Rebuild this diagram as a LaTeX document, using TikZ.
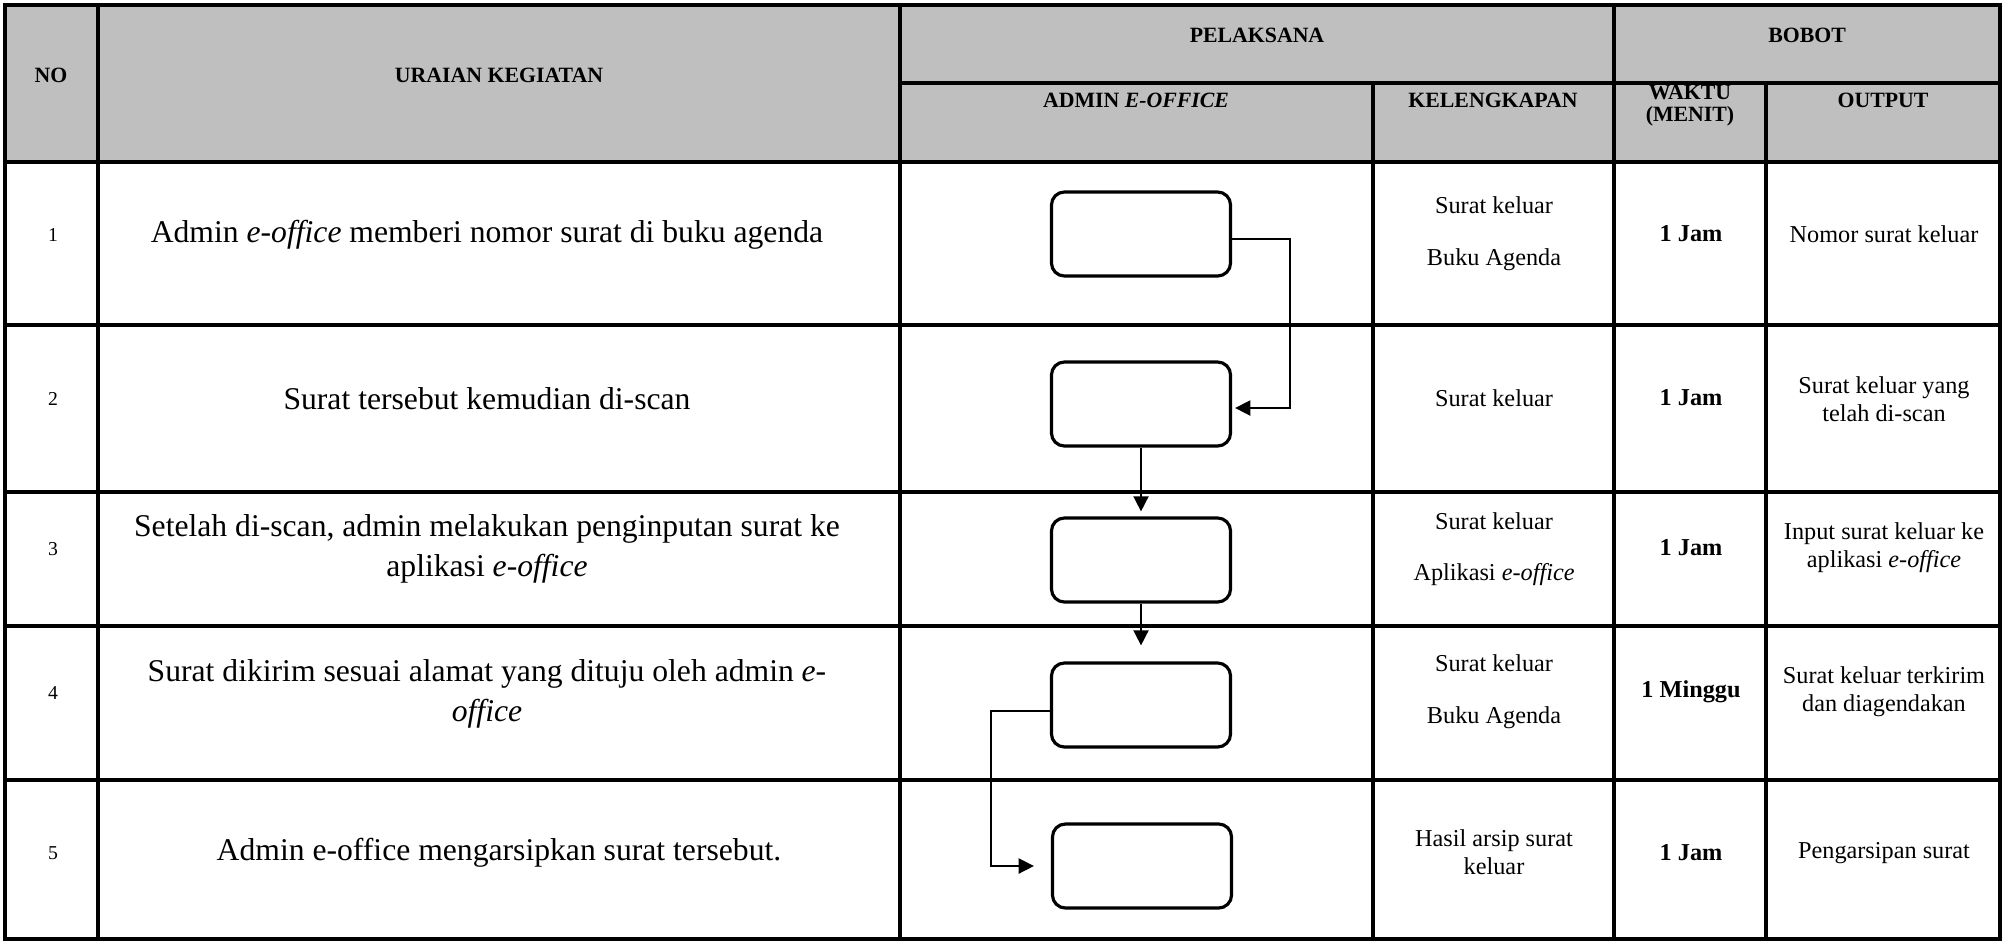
\documentclass[tikz,border=0pt]{standalone}
\usepackage{fontspec}
\setmainfont{Liberation Serif}
\usepackage{tikz}
\usetikzlibrary{arrows.meta,positioning}

\begin{document}
\begin{tikzpicture}[x=0.01cm, y=-0.01cm,
  grid/.style={line width=0.9pt},
  head/.style={font=\fontsize{6.2}{6.3}\selectfont\bfseries, align=center},
  uraian/.style={font=\fontsize{9}{11.4}\selectfont, align=center},
  isi/.style={font=\fontsize{6.9}{8}\selectfont, align=center},
  nomor/.style={font=\fontsize{5.6}{6.7}\selectfont},
  waktu/.style={font=\fontsize{6.9}{8}\selectfont\bfseries},
  proses/.style={draw, line width=0.9pt, rounded corners=3.7pt, minimum width=1.79cm, minimum height=0.84cm},
  alur/.style={line width=0.45pt, -{Triangle[length=4.3pt,width=4.3pt]}}]

\useasboundingbox (0,0) rectangle (2003,942);

% Header background
\fill[black!25] (5,5) rectangle (2000,162);

% Table lines
\draw[grid] (5,5) rectangle (2000,939);
\foreach \xx in {98,900,1614}
  \draw[grid] (\xx,5) -- (\xx,939);
\foreach \xx in {1373,1766}
  \draw[grid] (\xx,83) -- (\xx,939);
\draw[grid] (900,83) -- (2000,83);
\foreach \yy in {162,325,492,626,780}
  \draw[grid] (5,\yy) -- (2000,\yy);

% Header texts
\node[head] (hNo) at (51,75) {NO};
\node[head] (hUraian) at (499,75) {URAIAN KEGIATAN};
\node[head] (hPelaksana) at (1257,35) {PELAKSANA};
\node[head] (hBobot) at (1807,35) {BOBOT};
\node[head] (hAdmin) at (1136,100) {ADMIN \textit{E-OFFICE}};
\node[head] (hKel) at (1493,100) {KELENGKAPAN};
\node[head] (hWaktu) at (1690,106) {WAKTU\\(MENIT)};
\node[head] (hOutput) at (1883,100) {OUTPUT};

% Row numbers
\node[nomor] (no1) at (53,235) {1};
\node[nomor] (no2) at (53,399) {2};
\node[nomor] (no3) at (53,549) {3};
\node[nomor] (no4) at (53,693) {4};
\node[nomor] (no5) at (53,853) {5};

% Uraian kegiatan
\node[uraian] (ur1) at (487,235) {Admin \textit{e-office} memberi nomor surat di buku agenda};
\node[uraian] (ur2) at (487,399) {Surat tersebut kemudian di-scan};
\node[uraian] (ur3) at (487,549) {Setelah di-scan, admin melakukan penginputan surat ke\\aplikasi \textit{e-office}};
\node[uraian] (ur4) at (487,694) {Surat dikirim sesuai alamat yang dituju oleh admin \textit{e-}\\\textit{office}};
\node[uraian] (ur5) at (499,853) {Admin e-office mengarsipkan surat tersebut.};

% Process boxes
\node[proses] (b1) at (1141,234) {};
\node[proses] (b2) at (1141,404) {};
\node[proses] (b3) at (1141,560) {};
\node[proses] (b4) at (1141,705) {};
\node[proses] (b5) at (1142,866) {};

% Connectors
\coordinate (k1) at (1290,0);
\coordinate (k2) at (991,0);
\draw[alur, shorten >=0.03cm] ([yshift=-0.05cm]b1.east) -- ([yshift=-0.05cm]b1.east -| k1) |- ([yshift=-0.04cm]b2.east);
\draw[alur, shorten >=0.05cm] (b2.south) -- (b3.north);
\draw[alur, shorten >=0.16cm] (b3.south) -- (b4.north);
\draw[alur, shorten >=0.17cm] ([yshift=-0.06cm]b4.west) -- ([yshift=-0.06cm]b4.west -| k2) |- (b5.west);

% Kelengkapan
\node[isi] (kel1) at (1494,234) {Surat keluar\\[6.7pt]Buku Agenda};
\node[isi] (kel2) at (1494,398) {Surat keluar};
\node[isi] (kel3) at (1494,549) {Surat keluar\\[6.7pt]Aplikasi \textit{e-office}};
\node[isi] (kel4) at (1494,692) {Surat keluar\\[6.7pt]Buku Agenda};
\node[isi] (kel5) at (1494,852) {Hasil arsip surat\\keluar};

% Waktu
\node[waktu] (wkt1) at (1691,234) {1 Jam};
\node[waktu] (wkt2) at (1691,398) {1 Jam};
\node[waktu] (wkt3) at (1691,548) {1 Jam};
\node[waktu] (wkt4) at (1691,692) {1 Minggu};
\node[waktu] (wkt5) at (1691,853) {1 Jam};

% Output
\node[isi] (out1) at (1884,234) {Nomor surat keluar};
\node[isi] (out2) at (1884,399) {Surat keluar yang\\telah di-scan};
\node[isi] (out3) at (1884,548) {Input surat keluar ke\\aplikasi \textit{e-office}};
\node[isi] (out4) at (1884,692) {Surat keluar terkirim\\dan diagendakan};
\node[isi] (out5) at (1884,853) {Pengarsipan surat};

\end{tikzpicture}
\end{document}
